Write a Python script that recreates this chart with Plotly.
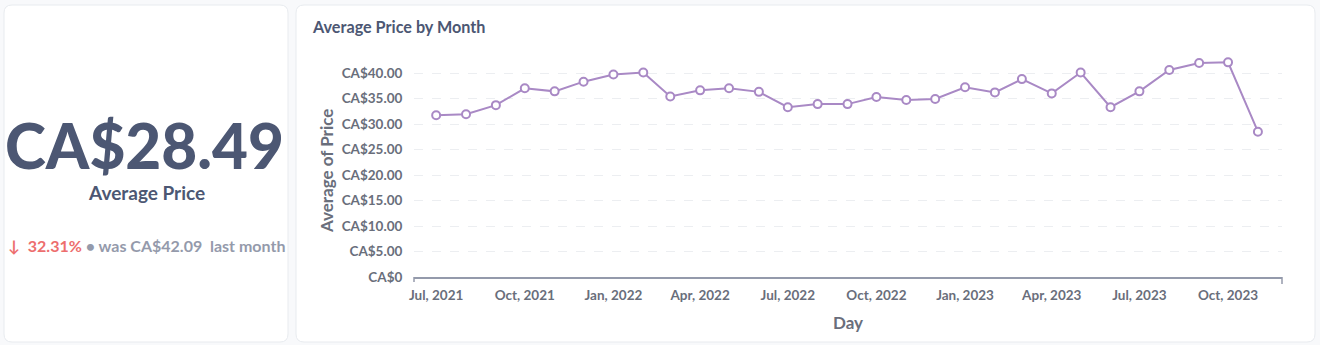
import plotly.graph_objects as go

W, H = 1320, 345

# ---- data ----
months = ["2021-07-01", "2021-08-01", "2021-09-01", "2021-10-01", "2021-11-01", "2021-12-01",
          "2022-01-01", "2022-02-01", "2022-03-01", "2022-04-01", "2022-05-01", "2022-06-01",
          "2022-07-01", "2022-08-01", "2022-09-01", "2022-10-01", "2022-11-01", "2022-12-01",
          "2023-01-01", "2023-02-01", "2023-03-01", "2023-04-01", "2023-05-01", "2023-06-01",
          "2023-07-01", "2023-08-01", "2023-09-01", "2023-10-01", "2023-11-01"]
avg_price = [31.7, 31.9, 33.7, 37.0, 36.4, 38.3,
             39.7, 40.1, 35.4, 36.6, 37.0, 36.3,
             33.3, 33.9, 33.9, 35.3, 34.7, 34.9,
             37.2, 36.2, 38.8, 36.0, 40.1, 33.3,
             36.4, 40.6, 41.95, 42.09, 28.49]
y_tick_vals = [0, 5, 10, 15, 20, 25, 30, 35, 40]
y_tick_text = ["CA$0", "CA$5.00", "CA$10.00", "CA$15.00", "CA$20.00",
               "CA$25.00", "CA$30.00", "CA$35.00", "CA$40.00"]
kpi_value = "CA$28.49"
kpi_label = "Average Price"
kpi_change = "32.31%"
kpi_previous = "CA$42.09"

DARK = "#4c5773"
MID = "#696e7b"
LIGHT = "#949aab"
RED = "#ed6e6e"
PURPLE = "#a989c5"
FONT = "Lato"


def px(x):
    return x / W


def py(y):
    return 1 - y / H


def card(x0, y0, x1, y1, r=8):
    rx, ry = r / W, r / H
    X0, X1 = px(x0), px(x1)
    Y0, Y1 = py(y0), py(y1)
    path = (f"M {X0+rx},{Y0} L {X1-rx},{Y0} Q {X1},{Y0} {X1},{Y0-ry} "
            f"L {X1},{Y1+ry} Q {X1},{Y1} {X1-rx},{Y1} "
            f"L {X0+rx},{Y1} Q {X0},{Y1} {X0},{Y1+ry} "
            f"L {X0},{Y0-ry} Q {X0},{Y0} {X0+rx},{Y0} Z")
    return dict(type="path", xref="paper", yref="paper", path=path,
                fillcolor="white", line=dict(color="#e8ebef", width=1), layer="below")


fig = go.Figure()
fig.add_trace(go.Scatter(
    x=months, y=avg_price, mode="lines+markers",
    line=dict(color=PURPLE, width=2),
    marker=dict(size=8, color="white", line=dict(color=PURPLE, width=2)),
    hoverinfo="skip", showlegend=False,
))

plot_left, plot_right = 414, 1282
plot_bottom = 277
ppu = (277 - 73) / 40.0
ymax = 45
plot_top = plot_bottom - ymax * ppu

fig.update_layout(
    width=W, height=H, autosize=False,
    margin=dict(l=0, r=0, t=0, b=0, pad=0, autoexpand=False),
    showlegend=False,
    paper_bgcolor="#f8f9fb",
    plot_bgcolor="rgba(0,0,0,0)",
    font=dict(family=FONT, color=MID),
    xaxis=dict(
        domain=[px(plot_left), px(plot_right)],
        automargin=False,
        type="date",
        range=["2021-06-08", "2023-11-26"],
        tick0="2021-07-01", dtick="M3", tickformat="%b, %Y",
        showgrid=False, zeroline=False,
        showline=True, linecolor="#949aab", linewidth=1.5,
        ticks="outside", ticklen=5, tickcolor="rgba(0,0,0,0)",
        tickfont=dict(family=FONT, size=13.5, color=MID, weight="bold"),
    ),
    yaxis=dict(
        domain=[py(plot_bottom), py(plot_top)],
        automargin=False,
        range=[0, ymax],
        tickmode="array", tickvals=y_tick_vals, ticktext=y_tick_text,
        showgrid=True, gridcolor="#eceef1", griddash="dash", gridwidth=1,
        zeroline=False, showline=False,
        ticks="outside", ticklen=8, tickcolor="rgba(0,0,0,0)",
        tickfont=dict(family=FONT, size=13.5, color=MID, weight="bold"),
    ),
    shapes=[
        card(4, 5, 288, 342),
        card(296, 5, 1315, 342),
        dict(type="line", xref="x domain", yref="paper", x0=0, x1=0,
             y0=py(plot_bottom), y1=py(plot_bottom + 5), line=dict(color="#949aab", width=1.5)),
        dict(type="line", xref="x domain", yref="paper", x0=1, x1=1,
             y0=py(plot_bottom), y1=py(plot_bottom + 7), line=dict(color="#949aab", width=1.5)),
    ],
    annotations=[
        dict(xref="paper", yref="paper", x=px(144.5), y=py(145), text=kpi_value,
             showarrow=False, xanchor="center", yanchor="middle",
             font=dict(family=FONT, size=62, color=DARK, weight=900)),
        dict(xref="paper", yref="paper", x=px(146), y=py(192), text=kpi_label,
             showarrow=False, xanchor="center", yanchor="middle",
             font=dict(family=FONT, size=19, color=DARK, weight="bold")),
        dict(xref="paper", yref="paper", x=px(146), y=py(245),
             text=(f'<span style="color:{RED}">↓  {kpi_change}</span>'
                   f' • was {kpi_previous}  last month'),
             showarrow=False, xanchor="center", yanchor="middle",
             font=dict(family=FONT, size=16, color=LIGHT, weight="bold")),
        dict(xref="paper", yref="paper", x=px(310), y=py(26), text="Average Price by Month",
             showarrow=False, xanchor="left", yanchor="middle",
             font=dict(family=FONT, size=16.2, color=DARK, weight="bold")),
        dict(xref="paper", yref="paper", x=px(848), y=py(322), text="Day",
             showarrow=False, xanchor="center", yanchor="middle",
             font=dict(family=FONT, size=17, color=MID, weight="bold")),
        dict(xref="paper", yref="paper", x=px(326), y=py(171), text="Average of Price",
             showarrow=False, xanchor="center", yanchor="middle", textangle=-90,
             font=dict(family=FONT, size=17, color=MID, weight="bold")),
    ],
)

fig.write_html("out.html")
